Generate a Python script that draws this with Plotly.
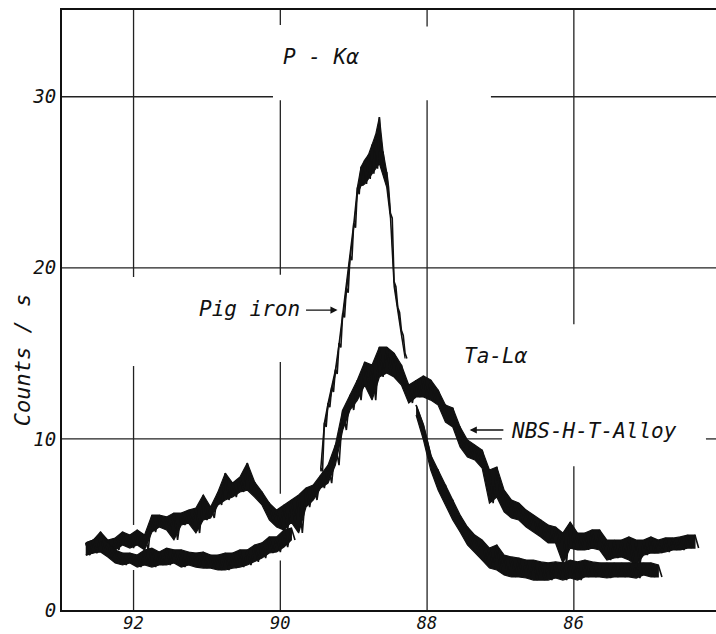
import plotly.graph_objects as go

# ---------------- data ----------------
# x axis: Bragg angle (2-theta, degrees), decreasing to the right
X_RANGE = [92.975, 84.063]
Y_RANGE = [0, 35.07]
X_TICKS = [92, 90, 88, 86]
Y_TICKS = [0, 10, 20, 30]

# NBS-H-T-Alloy trace: upper / lower edges of the noisy band, sampled every 0.1 deg from 92.65
NBS_X0, NBS_STEP = 92.65, 0.1
NBS_HI = [3.92, 4.09, 4.56, 4.09, 4.21, 4.56, 4.38, 4.68, 4.38, 5.55,
          5.55, 5.44, 5.67, 5.67, 5.84, 5.96, 6.72, 6.02, 6.90, 8.00,
          7.42, 7.77, 8.59, 7.48, 6.90, 6.25, 5.84, 6.14, 6.43, 6.72,
          7.13, 7.31, 7.89, 8.47, 9.64, 11.69, 12.57, 13.44, 14.49, 14.32,
          15.37, 15.37, 15.02, 14.32, 13.15, 13.44, 13.68, 13.44, 12.86, 11.98,
          11.81, 10.70, 9.94, 9.64, 9.35, 8.18, 8.36, 7.01, 6.43, 6.25,
          5.84, 5.55, 5.26, 4.97, 4.85, 4.50, 5.14, 4.50, 4.50, 4.68,
          4.68, 4.09, 4.09, 4.09, 4.27, 4.09, 4.09, 4.27, 4.09, 4.21,
          4.21, 4.27, 4.38, 4.38]
NBS_LO = [3.21, 3.33, 3.51, 3.21, 3.51, 3.80, 3.62, 3.80, 3.51, 4.56,
          4.85, 4.68, 4.10, 4.97, 5.08, 4.50, 5.26, 5.38, 6.14, 6.43,
          6.60, 6.90, 7.01, 6.60, 6.14, 5.26, 4.85, 4.68, 5.14, 4.50,
          6.02, 6.43, 7.13, 7.42, 8.47, 10.52, 11.69, 12.27, 13.15, 12.27,
          13.62, 13.85, 13.62, 13.15, 12.10, 12.45, 12.45, 12.27, 11.98, 10.99,
          10.70, 9.53, 8.94, 8.77, 8.30, 6.25, 6.60, 5.73, 5.38, 5.26,
          4.85, 4.56, 4.27, 3.92, 3.92, 2.75, 3.62, 3.51, 3.51, 3.62,
          3.51, 2.92, 3.04, 3.10, 2.92, 2.63, 3.21, 3.33, 3.33, 3.39,
          3.51, 3.51, 3.62, 3.62]

# Pig iron trace, three hand-traced pieces
PIG_A_X0, PIG_A_STEP = 92.65, 0.1
PIG_A_HI = [3.92, 4.09, 4.38, 3.92, 3.51, 3.33, 3.33, 3.21, 3.51, 3.62,
            3.39, 3.62, 3.51, 3.51, 3.39, 3.33, 3.39, 3.21, 3.21, 3.33,
            3.33, 3.51, 3.51, 3.80, 3.92, 4.27, 4.27, 4.68, 4.79]
PIG_A_LO = [3.21, 3.33, 3.39, 3.10, 2.75, 2.63, 2.75, 2.51, 2.63, 2.51,
            2.63, 2.63, 2.75, 2.51, 2.63, 2.51, 2.45, 2.45, 2.34, 2.34,
            2.45, 2.51, 2.63, 2.81, 3.04, 3.33, 3.39, 3.68, 4.09]

PIG_B_X0, PIG_B_STEP = 89.45, 0.05
PIG_B_HI = [8.30, 10.95, 12.10, 13.00, 14.05, 15.60, 17.35, 18.80, 20.70, 22.60,
            24.70, 25.90, 26.30, 26.60, 27.20, 27.80, 28.81, 26.80, 25.60, 23.20,
            19.20, 17.70, 16.35, 15.00]
PIG_B_LO = [8.10, 10.70, 11.85, 12.75, 13.80, 15.35, 17.10, 18.55, 20.45, 22.35,
            24.30, 24.80, 24.90, 25.20, 25.50, 25.80, 26.10, 25.40, 24.70, 22.90,
            18.90, 17.40, 16.05, 14.70]

PIG_C_X0, PIG_C_STEP = 88.15, 0.1
PIG_C_HI = [11.98, 10.81, 9.06, 8.18, 7.31, 6.43, 5.55, 4.85, 4.38, 4.09,
            3.62, 3.80, 3.21, 3.10, 3.04, 2.92, 2.92, 2.81, 2.75, 2.81,
            2.75, 2.92, 2.81, 2.92, 2.81, 2.75, 2.75, 2.75, 2.75, 2.75,
            2.75, 2.75, 2.75, 2.63]
PIG_C_LO = [11.40, 9.94, 8.18, 7.01, 6.14, 5.26, 4.56, 3.80, 3.39, 2.92,
            2.45, 2.34, 2.05, 1.93, 1.93, 1.87, 1.75, 1.75, 1.75, 1.87,
            1.75, 1.87, 1.75, 1.93, 1.93, 1.93, 1.87, 1.93, 1.93, 1.93,
            1.87, 2.05, 1.93, 1.93]

# hand-drawn grid: segments (gaps left around labels and curves)
V_GRID = {92: [(35.07, 19.46), (14.26, 4.97), (2.34, 0)],
          90: [(35.07, 34.2), (29.8, 19.6), (14.5, 6.8), (2.9, 0)],
          88: [(35.07, 34.1), (29.8, 0)],
          86: [(35.07, 16.7), (8.4, 0)]}
H_GRID = {30: [(92.975, 90.10), (87.13, 84.063)],
          20: [(92.975, 84.063)],
          10: [(92.975, 86.98), (84.20, 84.063)]}

# labels
LABELS = [("P - Kα", 89.44, 32.3), ("Pig iron", 90.42, 17.6),
          ("Ta-Lα", 87.06, 14.85), ("NBS-H-T-Alloy", 85.73, 10.45)]
ARROWS = [((89.67, 17.53), (89.22, 17.53)),   # tail, head
          ((86.94, 10.52), (87.42, 10.52))]
Y_TITLE = "Counts / s"

FONT = "DejaVu Sans Mono"
INK = "#111111"


def zigzag(x0, step, hi, lo):
    xs, ys = [], []
    for i, (h, l) in enumerate(zip(hi, lo)):
        x = x0 - i * step
        xs += [x, x - step / 2]
        ys += [h, l]
    return xs, ys


def ribbon(x0, step, hi, lo):
    xh = [x0 - i * step for i in range(len(hi))]
    return xh + xh[::-1], list(hi) + list(lo)[::-1]


fig = go.Figure()
for x0, st, hi, lo in [(NBS_X0, NBS_STEP, NBS_HI, NBS_LO),
                       (PIG_A_X0, PIG_A_STEP, PIG_A_HI, PIG_A_LO),
                       (PIG_B_X0, PIG_B_STEP, PIG_B_HI, PIG_B_LO),
                       (PIG_C_X0, PIG_C_STEP, PIG_C_HI, PIG_C_LO)]:
    rx, ry = ribbon(x0, st, hi, lo)
    fig.add_trace(go.Scatter(x=rx, y=ry, mode="lines", fill="toself",
                             fillcolor=INK, line=dict(color=INK, width=1.2),
                             showlegend=False, hoverinfo="skip"))
    zx, zy = zigzag(x0, st, hi, lo)
    fig.add_trace(go.Scatter(x=zx, y=zy, mode="lines",
                             line=dict(color=INK, width=1.6),
                             showlegend=False, hoverinfo="skip"))

shapes = []
for xv, segs in V_GRID.items():
    for y0, y1 in segs:
        shapes.append(dict(type="line", xref="x", yref="y", x0=xv, x1=xv,
                           y0=y0, y1=y1, line=dict(color="#222", width=1.3),
                           layer="below"))
for yv, segs in H_GRID.items():
    for x0, x1 in segs:
        shapes.append(dict(type="line", xref="x", yref="y", x0=x0, x1=x1,
                           y0=yv, y1=yv, line=dict(color="#222", width=1.3),
                           layer="below"))

annotations = []
for txt, x, y in LABELS:
    annotations.append(dict(text=txt, x=x, y=y, xref="x", yref="y",
                            showarrow=False, xanchor="center", yanchor="middle",
                            font=dict(family=FONT, size=21, color=INK,
                                      style="italic")))
for (tx, ty), (hx, hy) in ARROWS:
    annotations.append(dict(text="", x=hx, y=hy, ax=tx, ay=ty,
                            xref="x", yref="y", axref="x", ayref="y",
                            showarrow=True, arrowhead=2, arrowsize=1.1,
                            arrowwidth=1.3, arrowcolor=INK))
annotations.append(dict(text=Y_TITLE, x=-0.061, y=14.6, xref="paper",
                        yref="y", showarrow=False, textangle=-90,
                        xanchor="center", yanchor="middle",
                        font=dict(family=FONT, size=22, color=INK,
                                  style="italic")))

fig.update_layout(
    width=716, height=634,
    margin=dict(l=62, r=0, t=10, b=24, autoexpand=False),
    paper_bgcolor="white", plot_bgcolor="white",
    shapes=shapes, annotations=annotations,
    xaxis=dict(range=X_RANGE, tickvals=X_TICKS,
               ticktext=[str(v) for v in X_TICKS],
               showgrid=False, zeroline=False, showline=True,
               linecolor=INK, linewidth=2, mirror=True, ticks="",
               ticklabelstandoff=-3,
               tickfont=dict(family=FONT, size=17, color=INK, style="italic")),
    yaxis=dict(range=Y_RANGE, tickvals=Y_TICKS,
               ticktext=[str(v) for v in Y_TICKS],
               showgrid=False, zeroline=False, showline=True,
               linecolor=INK, linewidth=2, ticks="",
               tickfont=dict(family=FONT, size=19, color=INK, style="italic")),
)

fig.write_html("out.html",
               config={"displayModeBar": False},
               post_script="document.body.style.margin='0';"
                           "document.body.style.overflow='hidden';")
